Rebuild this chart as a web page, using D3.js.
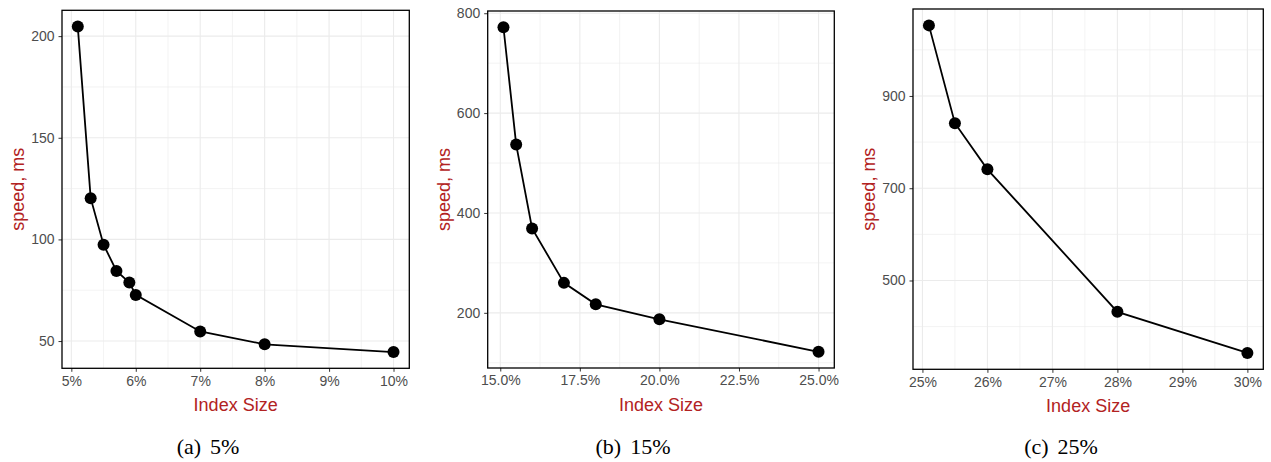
<!DOCTYPE html>
<html>
<head>
<meta charset="utf-8">
<script src="https://cdn.jsdelivr.net/npm/d3@7"></script>
<style>
  body { margin: 0; background: #fff; }
  svg { display: block; }
</style>
</head>
<body>
<svg id="chart"></svg>
<script>
// values
const sizeA = [5.1, 5.3, 5.5, 5.7, 5.9, 6.0, 7, 8, 10];
const speedA = [204.7, 120.3, 97.4, 84.5, 78.8, 72.7, 54.7, 48.4, 44.6];
const sizeB = [15.1, 15.5, 16, 17, 18, 20, 25];
const speedB = [772, 537, 369, 260, 217, 187, 122];
const sizeC = [25.1, 25.5, 26, 28, 30];
const speedC = [1053, 841, 741, 432, 343];

const xTicksA = [5, 6, 7, 8, 9, 10];
const yTicksA = [50, 100, 150, 200];
const xTicksB = [15, 17.5, 20, 22.5, 25];
const yTicksB = [200, 400, 600, 800];
const xTicksC = [25, 26, 27, 28, 29, 30];
const yTicksC = [500, 700, 900];

const captions = [["(a)", "5%"], ["(b)", "15%"], ["(c)", "25%"]];

const width = 1271;
const height = 462;

const svg = d3.select("#chart")
  .attr("width", width)
  .attr("height", height);

const panels = [
  {box: [62, 409.3, 10.3, 368.3], x: sizeA, y: speedA, xt: xTicksA, yt: yTicksA, fmt: d => d + "%", cap: captions[0], capX: 208},
  {box: [487.7, 834.3, 11, 368], x: sizeB, y: speedB, xt: xTicksB, yt: yTicksB, fmt: d => d.toFixed(1) + "%", cap: captions[1], capX: 633},
  {box: [913, 1263.3, 9, 369.3], x: sizeC, y: speedC, xt: xTicksC, yt: yTicksC, fmt: d => d + "%", cap: captions[2], capX: 1061}
];

// ggplot style 5% expansion of the data range
const expand = arr => {
  const [lo, hi] = d3.extent(arr);
  const pad = (hi - lo) * 0.05;
  return [lo - pad, hi + pad];
};

// minor breaks halfway between majors, kept inside the limits
const minors = (ticks, dom) => {
  const step = ticks[1] - ticks[0];
  const out = [];
  for (let v = ticks[0] - step / 2; v <= ticks[ticks.length - 1] + step / 2 + 1e-9; v += step) {
    if (v >= dom[0] && v <= dom[1]) out.push(v);
  }
  return out;
};

const drawPanel = (p) => {
  const [left, right, top, bottom] = p.box;
  const xDom = expand(p.x);
  const yDom = expand(p.y);
  const xScale = d3.scaleLinear().domain(xDom).range([left, right]);
  const yScale = d3.scaleLinear().domain(yDom).range([bottom, top]);

  const g = svg.append("g");

  // grid
  g.selectAll(".xminor").data(minors(p.xt, xDom)).enter().append("line")
    .attr("x1", d => xScale(d)).attr("x2", d => xScale(d))
    .attr("y1", top).attr("y2", bottom)
    .attr("stroke", "#ebebeb").attr("stroke-width", 0.6);
  g.selectAll(".yminor").data(minors(p.yt, yDom)).enter().append("line")
    .attr("y1", d => yScale(d)).attr("y2", d => yScale(d))
    .attr("x1", left).attr("x2", right)
    .attr("stroke", "#ebebeb").attr("stroke-width", 0.6);
  g.selectAll(".xmajor").data(p.xt).enter().append("line")
    .attr("x1", d => xScale(d)).attr("x2", d => xScale(d))
    .attr("y1", top).attr("y2", bottom)
    .attr("stroke", "#ebebeb").attr("stroke-width", 1.1);
  g.selectAll(".ymajor").data(p.yt).enter().append("line")
    .attr("y1", d => yScale(d)).attr("y2", d => yScale(d))
    .attr("x1", left).attr("x2", right)
    .attr("stroke", "#ebebeb").attr("stroke-width", 1.1);

  // axes
  const xAxis = d3.axisBottom(xScale).tickValues(p.xt).tickFormat(p.fmt).tickSize(3.5).tickPadding(4);
  const yAxis = d3.axisLeft(yScale).tickValues(p.yt).tickSize(3.5).tickPadding(4);

  const gx = g.append("g")
    .attr("transform", "translate(0," + bottom + ")")
    .call(xAxis);
  const gy = g.append("g")
    .attr("transform", "translate(" + left + ",0)")
    .call(yAxis);
  [gx, gy].forEach(a => {
    a.select(".domain").remove();
    a.selectAll(".tick line").attr("stroke", "#333333").attr("stroke-width", 1);
    a.selectAll(".tick text")
      .attr("fill", "#4d4d4d")
      .style("font-family", "'Liberation Sans', Arial, sans-serif")
      .style("font-size", "14px");
  });

  // line + points
  const pts = p.x.map((v, i) => [v, p.y[i]]);
  g.append("path")
    .datum(pts)
    .attr("fill", "none")
    .attr("stroke", "#000")
    .attr("stroke-width", 1.8)
    .attr("d", d3.line().x(d => xScale(d[0])).y(d => yScale(d[1])));
  g.selectAll(".dot").data(pts).enter().append("circle")
    .attr("cx", d => xScale(d[0]))
    .attr("cy", d => yScale(d[1]))
    .attr("r", 6)
    .attr("fill", "#000");

  // panel border
  g.append("rect")
    .attr("x", left).attr("y", top)
    .attr("width", right - left).attr("height", bottom - top)
    .attr("fill", "none").attr("stroke", "#000").attr("stroke-width", 1.3);

  // titles
  g.append("text")
    .attr("x", (left + right) / 2)
    .attr("y", bottom + 43)
    .attr("text-anchor", "middle")
    .attr("fill", "#b22222")
    .style("font-family", "'Liberation Sans', Arial, sans-serif")
    .style("font-size", "18px")
    .text("Index Size");
  g.append("text")
    .attr("transform", "translate(" + (left - 44) + "," + ((top + bottom) / 2) + ") rotate(-90)")
    .attr("dy", "0.35em")
    .attr("text-anchor", "middle")
    .attr("fill", "#b22222")
    .style("font-family", "'Liberation Sans', Arial, sans-serif")
    .style("font-size", "18px")
    .text("speed, ms");

  // caption
  const cap = g.append("text")
    .attr("x", p.capX)
    .attr("y", 454)
    .attr("text-anchor", "middle")
    .attr("fill", "#000")
    .style("font-family", "'Liberation Serif', 'Times New Roman', serif")
    .style("font-size", "22px");
  cap.append("tspan").text(p.cap[0]);
  cap.append("tspan").attr("dx", 9).text(p.cap[1]);
};

panels.forEach(drawPanel);
</script>
</body>
</html>
